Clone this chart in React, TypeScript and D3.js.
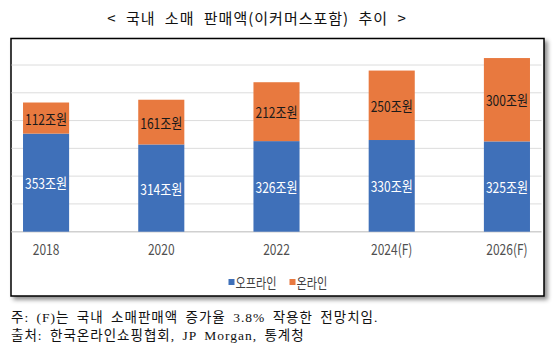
import React from "react";
import * as d3 from "d3";

const years = ["2018", "2020", "2022", "2024(F)", "2026(F)"];
const offline = [353, 314, 326, 330, 325];
const online = [112, 161, 212, 250, 300];
const yTicks = [0, 100, 200, 300, 400, 500, 600];
const seriesNames = ["오프라인", "온라인"];
const colors = ["#3F70B9", "#E8793F"];

const title = "< 국내 소매 판매액(이커머스포함) 추이 >";
const notes = [
  "주: (F)는 국내 소매판매액 증가율 3.8% 작용한 전망치임.",
  "출처: 한국온라인쇼핑협회, JP Morgan, 통계청",
];

const W = 558;
const H = 353;
const sans = "'Noto Sans CJK KR', 'Noto Sans', sans-serif";
const squeeze = 0.8;

export default function App() {
  const x = d3
    .scaleBand()
    .domain(years)
    .range([11.5, 541.5])
    .paddingInner(0.6)
    .paddingOuter(0.1);

  const y = d3.scaleLinear().domain([0, 600]).range([231.7, 65]);

  const stacked = d3
    .stack<number>()
    .keys(["0", "1"])
    .value((i, k) => (k === "0" ? offline[i] : online[i]))(d3.range(years.length));

  return (
    <svg
      width={W}
      height={H}
      style={{ position: "absolute", left: 0, top: 0, background: "#fff" }}
    >
      <defs>
        <filter id="shadow" x="-5%" y="-5%" width="115%" height="120%">
          <feDropShadow dx="3" dy="3" stdDeviation="2" floodColor="#000" floodOpacity="0.45" />
        </filter>
      </defs>

      <text
        x={257}
        y={17.5}
        textAnchor="middle"
        dominantBaseline="central"
        fontFamily={sans}
        fontSize={15}
        fill="#111"
        style={{ wordSpacing: "5px", letterSpacing: "1px" }}
      >
        {title}
      </text>

      <rect x={11} y={38.5} width={533} height={257.5} fill="#fff" stroke="#000" strokeWidth={1.5} filter="url(#shadow)" />

      <g className="grid">
        {yTicks.map((t) => (
          <line
            key={t}
            x1={11.5}
            x2={541.5}
            y1={y(t)}
            y2={y(t)}
            stroke={t === 0 ? "#d0d0d0" : "#dcdcdc"}
            strokeWidth={t === 0 ? 1.5 : 1}
          />
        ))}
      </g>

      <g className="bars">
        {stacked.map((layer, si) =>
          layer.map((d, i) => (
            <rect
              key={`${si}-${i}`}
              x={x(years[i])}
              y={y(d[1])}
              width={x.bandwidth()}
              height={y(d[0]) - y(d[1])}
              fill={colors[si]}
            />
          ))
        )}
      </g>

      <g className="labels" fontFamily={sans} fontSize={15}>
        {stacked.map((layer, si) =>
          layer.map((d, i) => (
            <text
              key={`${si}-${i}`}
              transform={`translate(${x(years[i])! + x.bandwidth() / 2},${(y(d[0]) + y(d[1])) / 2}) scale(${squeeze},1)`}
              textAnchor="middle"
              dominantBaseline="central"
              fill={si === 0 ? "#fff" : "#1a1a1a"}
            >
              {`${si === 0 ? offline[i] : online[i]}조원`}
            </text>
          ))
        )}
      </g>

      <g className="x-axis" fontFamily={sans} fontSize={15} fill="#505050">
        {years.map((yr) => (
          <text
            key={yr}
            transform={`translate(${x(yr)! + x.bandwidth() / 2},248) scale(${squeeze},1)`}
            textAnchor="middle"
            dominantBaseline="central"
          >
            {yr}
          </text>
        ))}
      </g>

      <g className="legend" fontFamily={sans} fontSize={14} fill="#404040">
        {seriesNames.map((name, i) => {
          const lx = i === 0 ? 228.5 : 289.5;
          return (
            <g key={name} transform={`translate(${lx},282)`}>
              <rect x={0} y={-3} width={6} height={6} fill={colors[i]} />
              <text transform={`translate(7,0) scale(${squeeze},1)`} dominantBaseline="central">
                {name}
              </text>
            </g>
          );
        })}
      </g>

      <g className="notes" fontFamily={`'Liberation Serif', ${sans}`} fontSize={13.5} fill="#111">
        {notes.map((n, i) => (
          <text
            key={i}
            x={11}
            y={317 + i * 18}
            dominantBaseline="central"
            style={{ wordSpacing: "3px", letterSpacing: "1px" }}
          >
            {n}
          </text>
        ))}
      </g>
    </svg>
  );
}
